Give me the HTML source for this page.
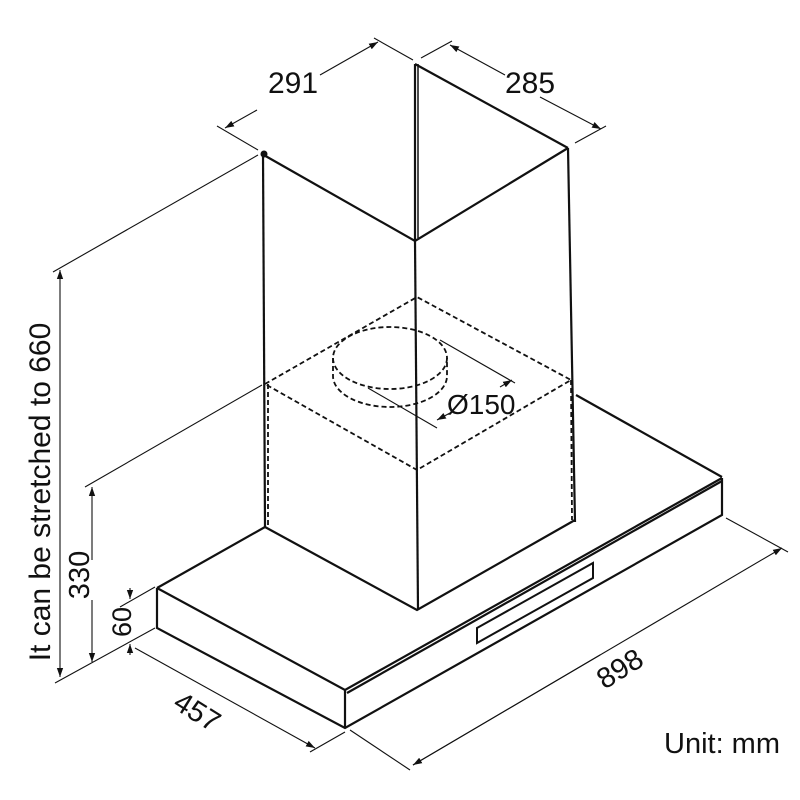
<!DOCTYPE html>
<html><head><style>body{margin:0;background:#fff}svg{display:block}text{font-family:"Liberation Sans",sans-serif;fill:#111}</style></head>
<body>
<svg width="800" height="800" viewBox="0 0 800 800" xmlns="http://www.w3.org/2000/svg">
<defs><marker id="a" viewBox="0 0 10 10" refX="10" refY="5" markerWidth="9" markerHeight="9" orient="auto-start-reverse" markerUnits="userSpaceOnUse"><path d="M0,1.5 L10,5 L0,8.5z" fill="#111"/></marker></defs>
<g stroke="#111" fill="none">
<g stroke-width="2.2">
<path d="M262,154 L415,241 L568,148"/>
<path d="M415,64 L568,148"/>
<path d="M415,64 L415,241"/>
<line x1="263" y1="154" x2="265" y2="527"/>
<line x1="415" y1="241" x2="418" y2="610"/>
<line x1="568" y1="148" x2="575" y2="522"/>
</g>
<line x1="418" y1="64" x2="418" y2="238" stroke-width="1.5"/>
<circle cx="264" cy="154" r="3" fill="#111"/>
<g stroke-width="1.8" stroke-dasharray="5,3">
<path d="M265,384 L417,297 L571,380 L417,470 Z"/>
<line x1="268" y1="384" x2="268" y2="525"/>
<line x1="571" y1="380" x2="572" y2="520"/>
<ellipse cx="390" cy="358" rx="57" ry="31"/>
<path d="M333,358 L333,376 A57,31 0 0 0 447,376 L447,358"/>
</g>
<g stroke-width="1.1">
<line x1="440" y1="340" x2="515" y2="383"/>
<line x1="368" y1="388" x2="437" y2="428"/>
<line x1="450" y1="413" x2="437" y2="420" marker-end="url(#a)"/>
<line x1="500" y1="387" x2="512" y2="380" marker-end="url(#a)"/>
</g>
<g stroke-width="2.2">
<path d="M157,588 L265,527"/>
<path d="M576,395 L722,477"/>
<path d="M157,588 L345,690 L722,478"/>
<path d="M157,588 L157,628 L345,728 L722,515 L722,478"/>
<line x1="345" y1="690" x2="345" y2="728"/>
<path d="M265,527 L417,610 L575,520"/>
</g>
<line x1="347" y1="693" x2="722" y2="481" stroke-width="2.2"/>
<path d="M477,628 L593,563 L593,578 L477,643 Z" stroke-width="2"/>
<g stroke-width="1.1">
<line x1="217" y1="126" x2="258" y2="150"/>
<line x1="374" y1="38" x2="413" y2="60"/>
<line x1="257" y1="110" x2="225" y2="128" marker-end="url(#a)"/>
<line x1="320" y1="75" x2="378" y2="42" marker-end="url(#a)"/>
<line x1="421" y1="58" x2="452" y2="41"/>
<line x1="575" y1="143" x2="606" y2="126"/>
<line x1="505" y1="75" x2="450" y2="45" marker-end="url(#a)"/>
<line x1="540" y1="97" x2="601" y2="129" marker-end="url(#a)"/>
<line x1="53" y1="272" x2="258" y2="155"/>
<line x1="60" y1="475" x2="60" y2="270" marker-end="url(#a)"/>
<line x1="60" y1="475" x2="60" y2="677" marker-end="url(#a)"/>
<line x1="85" y1="487" x2="262" y2="385"/>
<line x1="92" y1="560" x2="92" y2="487" marker-end="url(#a)"/>
<line x1="92" y1="600" x2="92" y2="662" marker-end="url(#a)"/>
<line x1="55" y1="683" x2="155" y2="628"/>
<line x1="120" y1="607" x2="155" y2="587"/>
<line x1="130" y1="588" x2="130" y2="599" marker-end="url(#a)"/>
<line x1="130" y1="655" x2="130" y2="644" marker-end="url(#a)"/>
<line x1="135" y1="648" x2="315" y2="748" marker-end="url(#a)"/>
<line x1="310" y1="752" x2="345" y2="732"/>
<line x1="350" y1="730" x2="410" y2="770"/>
<line x1="726" y1="518" x2="788" y2="552"/>
<line x1="413" y1="765" x2="782" y2="548" marker-end="url(#a)"/>
<line x1="600" y1="655" x2="413" y2="765" marker-end="url(#a)"/>
</g>
</g>
<text x="268" y="93" font-size="30">291</text>
<text x="505" y="93" font-size="30">285</text>
<text x="447" y="414" font-size="28">Ø150</text>
<text x="0" y="0" font-size="30" transform="translate(50,492) rotate(-90)" text-anchor="middle">It can be stretched to 660</text>
<text x="0" y="0" font-size="29" transform="translate(89,575) rotate(-90)" text-anchor="middle">330</text>
<text x="0" y="0" font-size="27" transform="translate(131,622) rotate(-90)" text-anchor="middle">60</text>
<text x="0" y="0" font-size="29" transform="translate(192,720) rotate(32)" text-anchor="middle">457</text>
<text x="0" y="0" font-size="29" transform="translate(625,677) rotate(-32)" text-anchor="middle">898</text>
<text x="664" y="753" font-size="29">Unit: mm</text>
</svg>
</body></html>
